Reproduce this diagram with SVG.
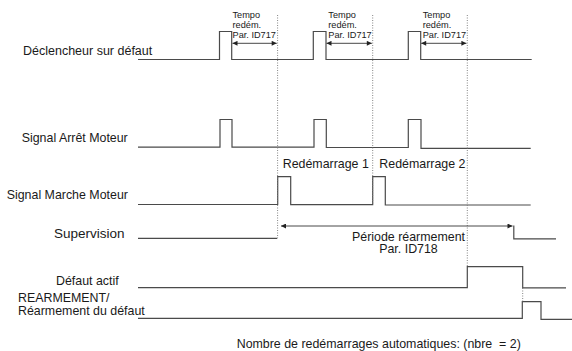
<svg xmlns="http://www.w3.org/2000/svg" width="572" height="351" viewBox="0 0 572 351">
<style>
  text { font-family: "Liberation Sans", Arial, sans-serif; fill: #1a1a1a; }
  .lbl { font-size: 12.4px; }
  .big { font-size: 13.5px; }
  .sm { font-size: 9.2px; }
  .sig { fill: none; stroke: #4a4a4a; stroke-width: 1.2; }
  .dot { fill: none; stroke: #777; stroke-width: 0.9; stroke-dasharray: 1 1.5; }
  .arr { fill: none; stroke: #333; stroke-width: 0.9; marker-start: url(#ah); marker-end: url(#ah); }
</style>
<defs>
  <marker id="ah" viewBox="0 0 10 10" refX="10" refY="5" markerWidth="6" markerHeight="5" markerUnits="userSpaceOnUse" orient="auto-start-reverse">
    <path d="M0,0 L10,5 L0,10 Z" fill="#222"/>
  </marker>
</defs>
<rect width="572" height="351" fill="#fff"/>

<g id="declencheur">
  <text class="lbl" x="23" y="55" style="font-size:12.5px">Déclencheur sur défaut</text>
  <polyline class="sig" points="138,59.5 219.5,59.5 219.5,31.5 231.7,31.5 231.7,59.5 313.3,59.5 313.3,31.5 326,31.5 326,59.5 408.3,59.5 408.3,31.5 420.7,31.5 420.7,59.5 531.7,59.5"/>
  <text class="sm" x="232.5" y="18.2">Tempo</text>
  <text class="sm" x="232.5" y="28.2">redém.</text>
  <text class="sm" x="232.5" y="38.2">Par. ID717</text>
  <text class="sm" x="328.3" y="18.2">Tempo</text>
  <text class="sm" x="328.3" y="28.2">redém.</text>
  <text class="sm" x="328.3" y="38.2">Par. ID717</text>
  <text class="sm" x="422.7" y="18.2">Tempo</text>
  <text class="sm" x="422.7" y="28.2">redém.</text>
  <text class="sm" x="422.7" y="38.2">Par. ID717</text>
</g>

<g id="arret">
  <text class="lbl" x="21.7" y="141.7">Signal Arrêt Moteur</text>
  <polyline class="sig" points="138,147.2 220,147.2 220,119.5 232,119.5 232,147.2 314,147.2 314,119.5 326.3,119.5 326.3,147.5 408.3,147.5 408.3,119.5 421,119.5 421,148.3 530.7,148.3"/>
</g>

<g id="marche">
  <text class="lbl" x="6.7" y="199.3">Signal Marche Moteur</text>
  <polyline class="sig" points="138,204.5 277.7,204.5 277.7,176.7 290.7,176.7 290.7,204.7 372.7,204.7 372.7,176.7 385.3,176.7 385.3,205 530.7,205"/>
  <text class="lbl" x="282.7" y="168.3">Redémarrage 1</text>
  <text class="lbl" x="379.3" y="168.3">Redémarrage 2</text>
</g>

<g id="supervision">
  <text class="big" x="54" y="237.5">Supervision</text>
  <polyline class="sig" points="138,238.3 277.3,238.3"/>
  <polyline class="sig" points="513.8,225.5 513.8,238.8 556,238.8"/>
  <text class="lbl" x="408.5" y="240.7" text-anchor="middle">Période réarmement</text>
  <text class="lbl" x="408.5" y="253.3" text-anchor="middle">Par. ID718</text>
</g>

<g id="defaut">
  <text class="lbl" x="56" y="285">Défaut actif</text>
  <polyline class="sig" points="138,287.7 467.3,287.7 467.3,266.7 522.7,266.7 522.7,287.9 566,287.9"/>
</g>

<g id="rearmement">
  <text class="lbl" x="18" y="301.7">REARMEMENT/</text>
  <text class="lbl" x="18" y="315">Réarmement du défaut</text>
  <polyline class="sig" points="138,318.3 522.3,318.3 522.3,301.7 541,301.7 541,319.3 572,319.3"/>
</g>

<g id="connectors">
  <line class="dot" x1="277.6" y1="15" x2="277.6" y2="238"/>
  <line class="dot" x1="372.7" y1="15" x2="372.7" y2="205"/>
  <line class="dot" x1="467.3" y1="15" x2="467.3" y2="266.7"/>
  <line class="dot" x1="522.7" y1="288" x2="522.7" y2="302"/>
  <line class="arr" x1="232.5" y1="43.3" x2="276.7" y2="43.3"/>
  <line class="arr" x1="326.5" y1="43.3" x2="371.8" y2="43.3"/>
  <line class="arr" x1="421.2" y1="43.3" x2="466.4" y2="43.3"/>
  <line class="arr" x1="281" y1="226" x2="512.5" y2="226"/>
</g>

<text class="lbl" x="236.7" y="348">Nombre de redémarrages automatiques: (nbre &#160;= 2)</text>
</svg>
